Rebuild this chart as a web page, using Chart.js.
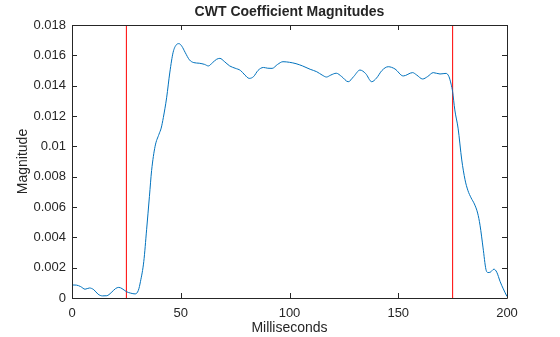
<!DOCTYPE html>
<html>
<head>
<meta charset="utf-8">
<script src="https://cdn.jsdelivr.net/npm/chart.js@4.4.1/dist/chart.umd.min.js"></script>
<style>
  html, body { margin: 0; padding: 0; background: #fff; }
  #wrap { width: 560px; height: 337px; }
</style>
</head>
<body>
<div id="wrap"><canvas id="cwtChart" width="560" height="337"></canvas></div>
<script>
// tiempos (ms) y magnitudes
const tiempoMs = [0, 2, 4, 6, 8, 10, 12, 14, 16, 18, 20, 21.5, 23, 25, 27, 29, 30.5, 31.5, 33, 34.3,
    35.6, 36.6, 38.2, 40, 41, 42, 43.5, 45, 46.5, 48, 49.2, 50.5, 52, 54, 56, 58.5, 61, 62.7, 64.5, 66.5,
    68, 70, 72.5, 75, 77.5, 79.5, 81.5, 83.5, 85.5, 88, 90, 92, 94.5, 97, 100, 103, 106, 109.5, 112.5, 115,
    117, 119, 121.5, 124, 127, 129.5, 132.4, 135, 137.8, 140, 142.5, 145.4, 148.5, 152.3, 156.6, 158.5, 161.2, 163.5, 166.1, 169.2,
    172, 173.3, 174.3, 175, 176, 177.5, 179.2, 180.7, 182, 183.5, 185, 186.5, 187.6, 189, 190.3, 191.3, 192.3, 194, 195.3, 196.8,
    198.3, 200];
const magnitud = [0.00086, 0.00085, 0.00075, 0.00058, 0.00066, 0.00055, 0.00025, 0.00014, 0.00015, 0.00035, 0.00062, 0.0007, 0.00062, 0.00042, 0.00032, 0.00027, 0.0005, 0.0011, 0.0024, 0.0045,
    0.0067, 0.0084, 0.0100, 0.0108, 0.0112, 0.0119, 0.0132, 0.0149, 0.0162, 0.0167, 0.01677, 0.0166, 0.0162, 0.0157, 0.01552, 0.01548, 0.0154, 0.0153, 0.0155, 0.01574,
    0.0158, 0.0156, 0.0153, 0.01515, 0.0150, 0.0147, 0.01448, 0.0146, 0.0150, 0.0152, 0.01515, 0.01514, 0.0154, 0.01558, 0.01554, 0.01545, 0.0153, 0.01508, 0.01492, 0.0147,
    0.01457, 0.0147, 0.01482, 0.0146, 0.01426, 0.0146, 0.01503, 0.0148, 0.01426, 0.0145, 0.0150, 0.01525, 0.0151, 0.01464, 0.01486, 0.0147, 0.01444, 0.0146, 0.01486, 0.01477,
    0.01481, 0.0146, 0.0141, 0.0136, 0.0124, 0.0112, 0.0091, 0.0078, 0.0071, 0.0066, 0.0062, 0.0056, 0.0048, 0.0033, 0.0019, 0.00168, 0.0017, 0.0019, 0.0017, 0.0011,
    0.0006, 0.0001];
// lineas rojas (limites)
const limitesMs = [25, 175];
const xTicks = [0, 50, 100, 150, 200];
const yTicks = ['0', '0.002', '0.004', '0.006', '0.008', '0.01', '0.012', '0.014', '0.016', '0.018'];

const colorTexto = '#262626';
const fuente = "'Liberation Sans', Arial, Helvetica, sans-serif";

var puntos = [];
for (var i = 0; i < tiempoMs.length; i++) {
    puntos.push({ x: tiempoMs[i], y: magnitud[i] });
}
var yMax = parseFloat(yTicks[yTicks.length - 1]);

var dsLimites = limitesMs.map(function(t) {
    return {
        data: [{ x: t, y: 0 }, { x: t, y: yMax }],
        borderColor: '#ff0000',
        borderWidth: 1,
        pointRadius: 0,
        tension: 0
    };
});

//caja y ticks hacia adentro, titulo centrado sobre el area
const cajaMatlab = {
    id: 'cajaMatlab',
    afterDraw(chart) {
        const ctx = chart.ctx;
        const a = chart.chartArea;
        const sx = chart.scales.x, sy = chart.scales.y;
        ctx.save();
        ctx.strokeStyle = colorTexto;
        ctx.lineWidth = 1;
        ctx.beginPath();
        ctx.rect(Math.round(a.left) + 0.5, Math.round(a.top) + 0.5, Math.round(a.right - a.left), Math.round(a.bottom - a.top));
        xTicks.forEach(function(v) {
            var px = Math.round(sx.getPixelForValue(v)) + 0.5;
            ctx.moveTo(px, a.bottom); ctx.lineTo(px, a.bottom - 5);
            ctx.moveTo(px, a.top); ctx.lineTo(px, a.top + 5);
        });
        yTicks.forEach(function(v) {
            var py = Math.round(sy.getPixelForValue(parseFloat(v))) + 0.5;
            ctx.moveTo(a.left, py); ctx.lineTo(a.left + 5, py);
            ctx.moveTo(a.right, py); ctx.lineTo(a.right - 5, py);
        });
        ctx.stroke();
        ctx.fillStyle = colorTexto;
        ctx.font = "bold 14px " + fuente;
        ctx.textAlign = 'center';
        ctx.textBaseline = 'middle';
        ctx.fillText('CWT Coefficient Magnitudes', (a.left + a.right) / 2, 12);
        ctx.restore();
    }
};

const ctxCwt = document.getElementById('cwtChart').getContext('2d');
const cwtChart = new Chart(ctxCwt, {
    type: 'line',
    data: {
        datasets: [{
            data: puntos,
            borderColor: '#0072bd',
            borderWidth: 1,
            pointRadius: 0,
            cubicInterpolationMode: 'monotone'
        }].concat(dsLimites)
    },
    options: {
        responsive: false,
        animation: false,
        layout: { padding: { top: 25, right: 53, left: 0, bottom: 0 } },
        plugins: {
            legend: { display: false },
            tooltip: { enabled: false }
        },
        scales: {
            x: {
                type: 'linear',
                min: 0,
                max: 200,
                afterFit: function(s) { s.height = 39; },
                afterBuildTicks: function(s) { s.ticks = xTicks.map(function(v) { return { value: v }; }); },
                grid: { display: false, drawTicks: false },
                border: { display: false },
                ticks: { color: colorTexto, padding: 8, maxRotation: 0, font: { family: fuente, size: 13 } },
                title: { display: true, text: 'Milliseconds', color: colorTexto, padding: { top: 0, bottom: 0 }, font: { family: fuente, size: 14 } }
            },
            y: {
                type: 'linear',
                min: 0,
                max: yMax,
                afterFit: function(s) { s.width = 72; },
                afterBuildTicks: function(s) { s.ticks = yTicks.map(function(v) { return { value: parseFloat(v) }; }); },
                grid: { display: false, drawTicks: false },
                border: { display: false },
                ticks: {
                    color: colorTexto,
                    padding: 6,
                    font: { family: fuente, size: 13 },
                    callback: function(v, idx) { return yTicks[idx]; }
                },
                title: { display: true, text: 'Magnitude', color: colorTexto, padding: { top: 15, bottom: 0 }, font: { family: fuente, size: 14 } }
            }
        }
    },
    plugins: [cajaMatlab]
});
</script>
</body>
</html>
